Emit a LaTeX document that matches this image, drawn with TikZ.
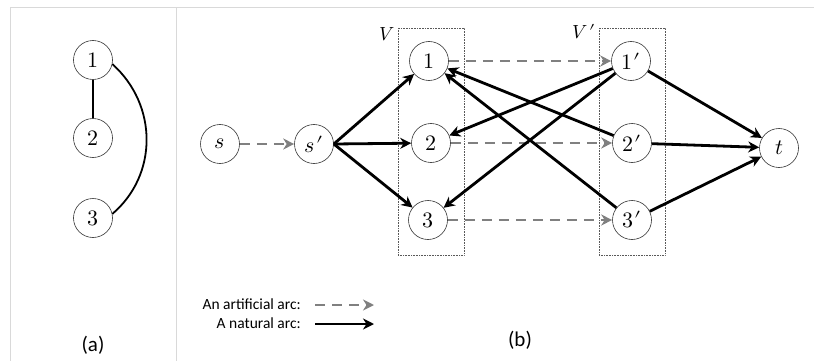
\documentclass[tikz,border=0pt]{standalone}
\usepackage{fontspec}
\usepackage{unicode-math}
\setmathfont{Latin Modern Math}
\setsansfont{Carlito}
\usetikzlibrary{arrows.meta}

% a full-size prime set beside its base
\newcommand{\pr}[1]{#1\mkern1mu\prime}

\begin{document}
\begin{tikzpicture}[x=1pt,y=-1pt,
  vtx/.style={circle,draw=black!80,line width=0.6pt,minimum size=39pt,inner sep=0pt,
    font=\fontsize{22}{24}\selectfont},
  tipstyle/.style={-{Stealth[length=11pt,width=11pt,inset=3.5pt]}},
  natural/.style={tipstyle,line width=2.8pt,draw=black},
  artificial/.style={tipstyle,line width=2.8pt,draw=black!50,dash pattern=on 10pt off 7pt},
  panelrule/.style={draw=black!15,line width=1pt},
  grp/.style={draw=black!65,densely dotted,line width=0.6pt},
  caption/.style={font=\sffamily\fontsize{21}{23}\selectfont},
  legendtext/.style={font=\sffamily\fontsize{15.5}{17}\selectfont,anchor=east,inner sep=0pt},
  setlabel/.style={font=\fontsize{19}{21}\selectfont},
]
\useasboundingbox (0,0) rectangle (814,361);

% panel frame
\draw[panelrule] (10,361) -- (10,8) -- (814,8);
\draw[panelrule] (176,8) -- (176,361);

% (a): the undirected graph
\node[vtx] (a1) at (93,60) {$1$};
\node[vtx] (a2) at (93,138) {$2$};
\node[vtx] (a3) at (93,218) {$3$};
\draw[line width=2.8pt] (a1) -- (a2);
\draw[line width=1.8pt] (a1.-12) .. controls (158,105) and (158,175) .. (a3.12);
\node[caption] (capa) at (93,345) {(a)};

% (b): the network
\draw[grp] (398,28) rectangle (464,255);
\draw[grp] (599,28) rectangle (665,255);
\node[setlabel] (labV) at (387,34) {$V$};
\node[setlabel] (labVp) at (584,32) {$\pr{V}$};

\node[vtx] (s) at (220,144) {$s$};
\node[vtx] (sp) at (314,144) {$\pr{s}$};
\node[vtx] (b1) at (429,61) {$1$};
\node[vtx] (b2) at (431,143) {$2$};
\node[vtx] (b3) at (428,220) {$3$};
\node[vtx] (c1) at (631,61) {$\pr{1}$};
\node[vtx] (c2) at (632,143) {$\pr{2}$};
\node[vtx] (c3) at (632,220) {$\pr{3}$};
\node[vtx] (t) at (779,148) {$t$};

\draw[artificial] (s) -- (sp);
\draw[natural] (sp.east) -- (b1);
\draw[natural] (sp.east) -- (b2);
\draw[natural] (sp.east) -- (b3);

\draw[artificial] (b1) -- (c1);
\draw[artificial] (b2) -- (c2);
\draw[artificial] (b3) -- (c3);

\draw[natural] (c2) -- (b1);
\draw[natural] (c3) -- (b1);
\draw[natural] (c1) -- (b2);
\draw[natural] (c1) -- (b3);

\draw[natural] (c1) -- (t);
\draw[natural] (c2) -- (t);
\draw[natural] (c3) -- (t);

% legend
\node[legendtext] (la) at (301,304) {An artificial arc:};
\node[legendtext] (ln) at (301,323) {A natural arc:};
\coordinate (la0) at (315,305);
\coordinate (la1) at (374,305);
\coordinate (ln0) at (315,324);
\coordinate (ln1) at (374,324);
\draw[artificial] (la0) -- (la1);
\draw[natural] (ln0) -- (ln1);
\node[caption] (capb) at (520,340) {(b)};
\end{tikzpicture}
\end{document}
